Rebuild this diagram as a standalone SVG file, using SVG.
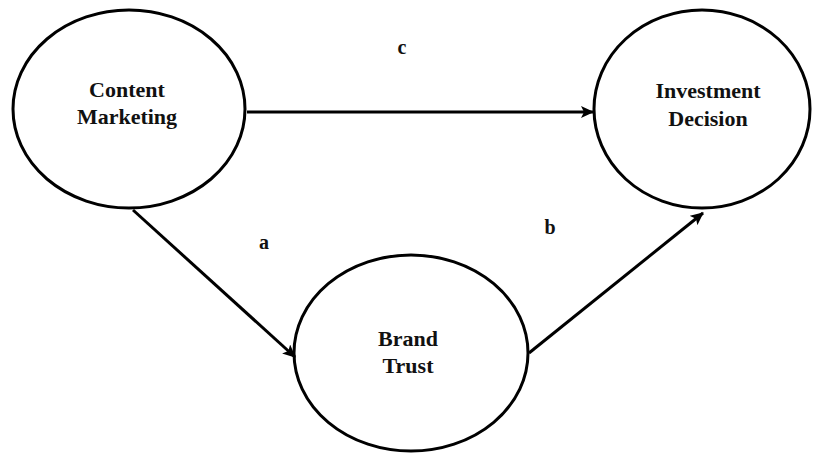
<svg xmlns="http://www.w3.org/2000/svg" width="815" height="453" viewBox="0 0 815 453">
<style>
.node{fill:#fff;stroke:#000;stroke-width:3}
.t{font-family:"Liberation Serif","Times New Roman",serif;font-weight:bold;font-size:22px;fill:#111;text-anchor:middle}
.lbl{font-family:"Liberation Serif","Times New Roman",serif;font-weight:bold;font-size:20px;fill:#111;text-anchor:middle}
.edge{stroke:#000;stroke-width:3;fill:none;marker-end:url(#ah)}
</style>
<defs>
<marker id="ah" markerUnits="userSpaceOnUse" markerWidth="14" markerHeight="12" refX="12" refY="6" orient="auto">
<path d="M0,0 L13,6 L0,12 L3,6 Z" fill="#000"/>
</marker>
</defs>
<rect width="815" height="453" fill="#fff"/>
<g id="content-marketing">
<ellipse class="node" cx="129" cy="109" rx="116" ry="99"/>
<text class="t" x="127" y="97">Content</text>
<text class="t" x="127" y="124">Marketing</text>
</g>
<g id="investment-decision">
<ellipse class="node" cx="702" cy="109" rx="108" ry="99"/>
<text class="t" x="708" y="98">Investment</text>
<text class="t" x="708" y="126">Decision</text>
</g>
<g id="brand-trust">
<ellipse class="node" cx="411" cy="353" rx="117" ry="98"/>
<text class="t" x="408" y="346">Brand</text>
<text class="t" x="408" y="373">Trust</text>
</g>
<g id="connectors">
<line class="edge" x1="247" y1="112" x2="593" y2="112"/>
<line class="edge" x1="133" y1="210" x2="295" y2="357"/>
<line class="edge" x1="529" y1="353" x2="703" y2="213"/>
<text class="lbl" x="402" y="54">c</text>
<text class="lbl" x="264" y="249">a</text>
<text class="lbl" x="550" y="234">b</text>
</g>
</svg>
